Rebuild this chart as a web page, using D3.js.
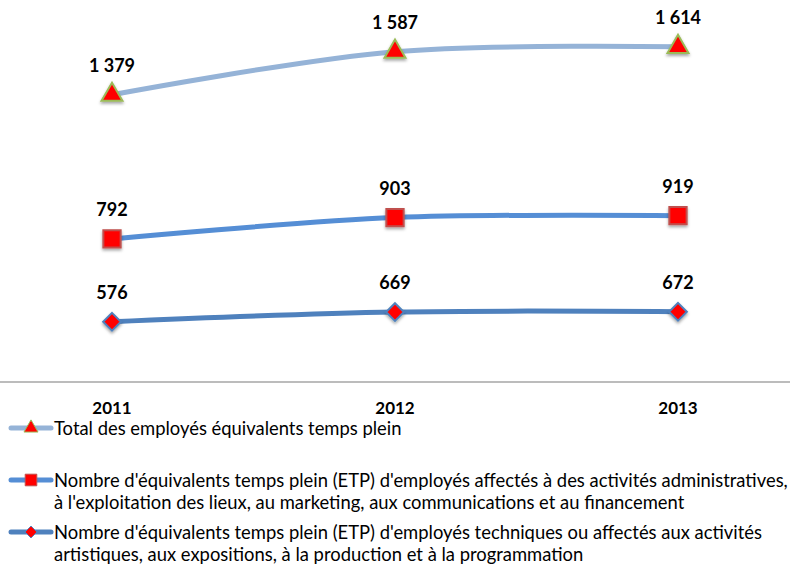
<!DOCTYPE html>
<html>
<head>
<meta charset="utf-8">
<script src="https://cdn.jsdelivr.net/npm/d3@7"></script>
<style>
  body { margin: 0; background: #fff; }
  svg { display: block; font-family: Lato, "Open Sans", sans-serif; }
</style>
</head>
<body>
<svg id="chart" width="790" height="569"></svg>
<script>
var years = ["2011", "2012", "2013"];
var totalEtp = [1379, 1587, 1614];
var adminEtp = [792, 903, 919];
var techEtp = [576, 669, 672];

var seriesNames = [
  ["Total des employés équivalents temps plein"],
  ["Nombre d'équivalents temps plein (ETP) d'employés affectés à des activités administratives,",
   "à l'exploitation des lieux, au marketing, aux communications et au financement"],
  ["Nombre d'équivalents temps plein (ETP) d'employés techniques ou affectés aux activités",
   "artistiques, aux expositions, à la production et à la programmation"]
];

var svg = d3.select("#chart"),
    width = +svg.attr("width"),
    height = +svg.attr("height");

// Stacked lines: tech at the bottom, admin on top of it, total on top.
var rows = years.map(function(y, i) {
  return { year: y, tech: techEtp[i], admin: adminEtp[i], total: totalEtp[i] };
});
var keys = ["tech", "admin", "total"];
var stacked = d3.stack().keys(keys)(rows);

var x = d3.scalePoint().domain(years).range([112, 678]);
var y = d3.scaleLinear().domain([0, 3500]).range([382, 16]);

var styles = {
  total: { color: "#95b3d7", marker: d3.symbolTriangle, size: 190, fill: "#ff0000", stroke: "#9bbb59", legendRow: 0 },
  admin: { color: "#558ed5", marker: d3.symbolSquare, size: 300, fill: "#ff0000", stroke: "#c0504d", legendRow: 1 },
  tech:  { color: "#4f81bd", marker: d3.symbolDiamond2, size: 200, fill: "#ff0000", stroke: "#4f81bd", legendRow: 2 }
};

var defs = svg.append("defs");
var shadow = defs.append("filter").attr("id", "shadow")
  .attr("x", "-50%").attr("y", "-50%").attr("width", "200%").attr("height", "200%");
shadow.append("feDropShadow")
  .attr("dx", 0).attr("dy", 2).attr("stdDeviation", 1.6)
  .attr("flood-color", "#000").attr("flood-opacity", 0.35);

// Category axis line
svg.append("line")
  .attr("x1", 0).attr("x2", width)
  .attr("y1", y(0)).attr("y2", y(0))
  .attr("stroke", "#a6a6a6").attr("stroke-width", 1.5);

svg.append("g").selectAll("text")
  .data(years)
  .enter().append("text")
  .attr("x", function(d) { return x(d); })
  .attr("y", 414)
  .attr("text-anchor", "middle")
  .attr("font-size", 17).attr("font-weight", "bold")
  .attr("fill", "#000")
  .text(function(d) { return d; });

var line = d3.line()
  .x(function(d) { return x(d.data.year); })
  .y(function(d) { return y(d[1]); })
  .curve(d3.curveCatmullRom);

var layer = svg.append("g").selectAll("g")
  .data(stacked)
  .enter().append("g");

layer.append("path")
  .attr("d", function(d) { return line(d); })
  .attr("fill", "none")
  .attr("stroke", function(d) { return styles[d.key].color; })
  .attr("stroke-width", 5)
  .attr("stroke-linecap", "round");

layer.selectAll(".marker")
  .data(function(d) { return d.map(function(p) { p.key = d.key; return p; }); })
  .enter().append("path")
  .attr("class", "marker")
  .attr("transform", function(d) { return "translate(" + x(d.data.year) + "," + y(d[1]) + ")"; })
  .attr("d", function(d) { return d3.symbol().type(styles[d.key].marker).size(styles[d.key].size)(); })
  .attr("fill", function(d) { return styles[d.key].fill; })
  .attr("stroke", function(d) { return styles[d.key].stroke; })
  .attr("stroke-width", 2)
  .attr("filter", "url(#shadow)");

var fmt = function(v) { return d3.format(",")(v).replace(",", " "); };

layer.selectAll(".label")
  .data(function(d) { return d; })
  .enter().append("text")
  .attr("class", "label")
  .attr("x", function(d) { return x(d.data.year); })
  .attr("y", function(d) { return y(d[1]) - 23; })
  .attr("text-anchor", "middle")
  .attr("font-size", 18).attr("font-weight", "bold")
  .attr("fill", "#000")
  .text(function(d) { return fmt(d[1] - d[0]); });

// Legend
var legendTop = [428, 480, 532];
var legend = svg.append("g").selectAll("g")
  .data(keys.slice().reverse())
  .enter().append("g")
  .attr("transform", function(d) { return "translate(0," + legendTop[styles[d].legendRow] + ")"; });

legend.append("line")
  .attr("x1", 11).attr("x2", 51)
  .attr("y1", 0).attr("y2", 0)
  .attr("stroke", function(d) { return styles[d].color; })
  .attr("stroke-width", 5)
  .attr("stroke-linecap", "round");

legend.append("path")
  .attr("transform", "translate(31,0)")
  .attr("d", function(d) { return d3.symbol().type(styles[d].marker).size(styles[d].size * 0.45)(); })
  .attr("fill", function(d) { return styles[d].fill; })
  .attr("stroke", function(d) { return styles[d].stroke; })
  .attr("stroke-width", 1);

legend.selectAll("text")
  .data(function(d) { return seriesNames[styles[d].legendRow]; })
  .enter().append("text")
  .attr("x", 54)
  .attr("y", function(d, i) { return 7 + i * 22; })
  .attr("font-size", 18.4)
  .attr("fill", "#000")
  .text(function(d) { return d; });
</script>
</body>
</html>
